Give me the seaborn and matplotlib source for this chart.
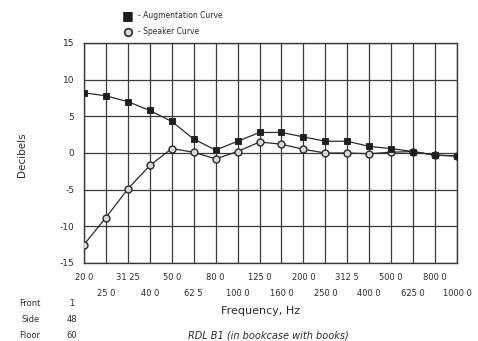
import numpy as np
import pandas as pd
import matplotlib
matplotlib.use("Agg")
import matplotlib.pyplot as plt
import seaborn as sns

# 1/3-octave bands, labels as printed on the chart
freq_labels = ["20 0", "25 0", "31 25", "40 0", "50 0", "62 5", "80 0", "100 0", "125 0",
               "160 0", "200 0", "250 0", "312 5", "400 0", "500 0", "625 0", "800 0", "1000 0"]
augmentation = [8.2, 7.8, 7.0, 5.8, 4.3, 1.9, 0.4, 1.6, 2.8,
                2.8, 2.2, 1.6, 1.6, 0.9, 0.6, 0.2, -0.3, -0.4]
speaker = [-12.5, -8.8, -4.9, -1.7, 0.6, 0.1, -0.8, 0.2, 1.5,
           1.2, 0.5, 0.0, 0.0, -0.1, 0.1, 0.2, -0.3, -0.4]
y_ticks = [-15, -10, -5, 0, 5, 10, 15]
placement_names = ["Front", "Side", "Floor"]
placement_values = ["1", "48", "60"]

sns.set_style("white")
plt.rcParams["font.family"] = ["DejaVu Sans"]

pos = np.arange(len(freq_labels))
df = pd.DataFrame({"pos": np.concatenate([pos, pos]),
                   "db": augmentation + speaker,
                   "curve": ["Augmentation"] * len(pos) + ["Speaker"] * len(pos)})

fig = plt.figure(figsize=(4.78, 3.41), dpi=100)
ax = fig.add_axes([84 / 478, 1 - 263 / 341, (457 - 84) / 478, (263 - 43) / 341])

ink = "#2a2a2a"
sns.lineplot(data=df[df.curve == "Speaker"], x="pos", y="db", ax=ax, color=ink, lw=0.9,
             marker="o", markersize=5, markerfacecolor="#d8d8d8", markeredgecolor=ink,
             markeredgewidth=1.0, zorder=3)
sns.lineplot(data=df[df.curve == "Augmentation"], x="pos", y="db", ax=ax, color=ink, lw=0.9,
             marker="s", markersize=5, markerfacecolor="#1e1e1e", markeredgecolor=ink,
             zorder=4)

ax.set_xlim(0, len(pos) - 1)
ax.set_ylim(-15, 15)
ax.set_xticks(pos[::2], freq_labels[::2])
ax.set_xticks(pos[1::2], freq_labels[1::2], minor=True)
ax.set_yticks(y_ticks, [str(v) for v in y_ticks])
ax.tick_params(axis="x", which="major", length=0, pad=7, labelsize=6, colors=ink)
ax.tick_params(axis="x", which="minor", length=0, pad=18.5, labelsize=6, colors=ink)
ax.tick_params(axis="y", length=0, pad=7, labelsize=6.5, colors=ink)
ax.grid(True, which="both", color="#3a3a3a", lw=0.9)
for s in ax.spines.values():
    s.set_color("#3a3a3a")
    s.set_linewidth(1.0)
ax.set_xlabel("")
ax.set_ylabel("")

# legend drawn as in the original (markers + dash text)
fig.text(128 / 478, 1 - 16 / 341, "\u25a0", fontsize=9, color="#1e1e1e", ha="center", va="center")
fig.text(138 / 478, 1 - 16 / 341, "- Augmentation Curve", fontsize=5.5, color=ink, va="center")
fig.lines.append(plt.Line2D([128 / 478], [1 - 32 / 341], transform=fig.transFigure, marker="o",
                            markersize=5.5, markerfacecolor="#d8d8d8", markeredgecolor=ink,
                            markeredgewidth=1.2, lw=0))
fig.text(138 / 478, 1 - 32 / 341, "- Speaker Curve", fontsize=5.5, color=ink, va="center")

fig.text(22 / 478, 1 - 155 / 341, "Decibels", rotation=90, fontsize=7.5, color=ink,
         ha="center", va="center")
fig.text(261 / 478, 1 - 311 / 341, "Frequency, Hz", fontsize=8, color=ink, ha="center", va="center")
fig.text(268 / 478, 1 - 336 / 341, "RDL B1 (in bookcase with books)", fontsize=7,
         style="italic", color=ink, ha="center", va="center")
for i, (name, val) in enumerate(zip(placement_names, placement_values)):
    y = 1 - (303 + i * 16.5) / 341
    fig.text(40 / 478, y, name, fontsize=6, color=ink, ha="right", va="center")
    fig.text(72 / 478, y, val, fontsize=6, color=ink, ha="center", va="center")

fig.savefig("out.png", dpi=100)
